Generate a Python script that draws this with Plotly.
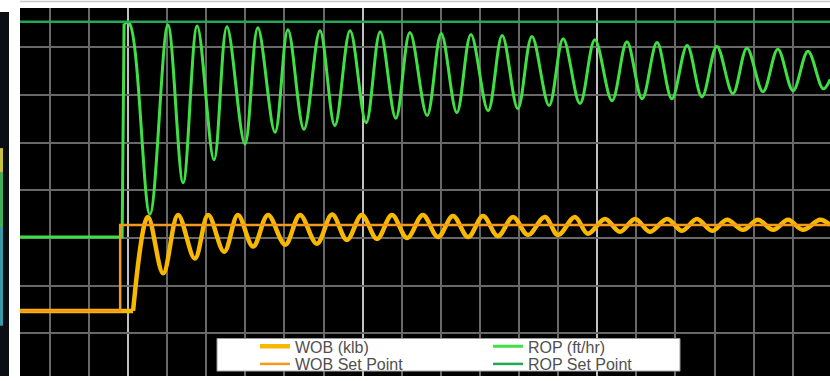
import plotly.graph_objects as go

# ---- data (time in s, values on a shared scale) ----
rop_time = [-27.6, -1.5, -1.0, 0.3, 5.6, 10.2, 14.1, 17.7, 22.0, 25.3, 29.9, 33.2, 37.6, 40.9,
            45.0, 49.1, 52.9, 56.8, 60.9, 64.5, 68.5, 72.1, 76.5, 80.1, 84.1, 87.7, 92.1, 95.7,
            99.7, 103.3, 107.7, 111.3, 115.6, 119.4, 123.8, 127.6, 131.5, 135.3, 139.1, 143.0,
            146.8, 150.6, 154.7, 158.3, 162.4, 166.2, 170.1, 173.9, 177.8, 179.6]
rop_vals = [30.2, 30.2, 75.0, 75.1, 35.0, 74.7, 41.6, 74.5, 46.4, 74.3, 49.7, 74.1, 52.2, 73.7,
            52.8, 73.5, 53.6, 73.5, 54.2, 73.3, 55.1, 73.1, 55.7, 72.9, 56.3, 72.7, 56.7, 72.5,
            57.1, 72.3, 57.8, 71.8, 58.2, 71.6, 58.8, 71.2, 59.2, 71.0, 59.2, 70.4,
            59.6, 70.2, 60.3, 69.8, 60.7, 69.6, 60.9, 69.2, 61.3, 63.3]

wob_time = [-27.6, 1.3, 5.1, 9.0, 12.8, 17.1, 20.5, 24.6, 28.1, 32.0, 35.8, 40.2, 44.0, 48.3,
            52.2, 56.0, 59.8, 63.7, 67.5, 71.4, 75.4, 79.3, 83.1, 87.0, 90.8, 94.6, 98.5, 102.3,
            106.6, 110.0, 114.3, 117.6, 122.0, 125.8, 129.7, 133.5, 137.9, 141.7, 145.5, 149.4,
            153.2, 157.3, 161.1, 165.0, 168.8, 172.6, 177.0, 179.6]
wob_vals = [14.7, 14.7, 34.4, 22.6, 34.8, 25.7, 34.8, 27.1, 34.8, 28.2, 34.8, 28.6, 34.8, 28.8,
            34.9, 29.6, 34.8, 29.8, 34.8, 30.0, 34.8, 30.2, 34.6, 30.2, 34.6, 30.4, 34.4, 30.6,
            34.4, 30.6, 34.4, 30.9, 34.0, 31.3, 34.0, 31.3, 34.0, 31.5, 34.0, 31.5,
            33.8, 31.7, 33.8, 31.7, 33.8, 31.7, 33.8, 32.7]

wob_sp_time = [-27.6, -2.0, -2.0, 179.6]
wob_sp_vals = [14.7, 14.7, 32.7, 32.7]

rop_sp_time = [-27.6, 179.6]
rop_sp_vals = [75.4, 75.4]

names = ["WOB (klb)", "WOB Set Point", "ROP (ft/hr)", "ROP Set Point"]

C_ROP = "#40e044"
C_ROPSP = "#27a655"
C_WOB = "#f8b800"
C_WOBSP = "#f39a1c"

fig = go.Figure()

# ROP actual: pre-step (linear) + oscillation (spline)
fig.add_trace(go.Scatter(x=rop_time[:3], y=rop_vals[:3], mode="lines",
                         line=dict(color=C_ROP, width=3), showlegend=False,
                         legendgroup="rop", hoverinfo="skip"))
fig.add_trace(go.Scatter(x=rop_time[2:], y=rop_vals[2:], mode="lines", name=names[2],
                         line=dict(color=C_ROP, width=3, shape="spline", smoothing=1.0),
                         legendgroup="rop", legend="legend3"))

# WOB actual
fig.add_trace(go.Scatter(x=wob_time[:2], y=wob_vals[:2], mode="lines",
                         line=dict(color=C_WOB, width=4.5), showlegend=False,
                         legendgroup="wob", hoverinfo="skip"))
fig.add_trace(go.Scatter(x=wob_time[1:], y=wob_vals[1:], mode="lines", name=names[0],
                         line=dict(color=C_WOB, width=4.5, shape="spline", smoothing=1.0),
                         legendgroup="wob", legend="legend"))

# Set points
fig.add_trace(go.Scatter(x=rop_sp_time, y=rop_sp_vals, mode="lines", name=names[3],
                         line=dict(color=C_ROPSP, width=2.5), legend="legend4"))
fig.add_trace(go.Scatter(x=wob_sp_time, y=wob_sp_vals, mode="lines", name=names[1],
                         line=dict(color=C_WOBSP, width=2.5), legend="legend2"))

W, H = 830, 381
ML, MT = 20, 8
PW, PH = W - ML, H - MT


def px_x(p):
    return (p - ML) / PW


def px_y(p):
    return (H - p) / PH


leg_font = dict(family="Liberation Sans, Arial, sans-serif", size=16, color="#505050")


def leg(xp, yp):
    return dict(x=px_x(xp), y=px_y(yp), xanchor="left", yanchor="middle",
                bgcolor="rgba(0,0,0,0)", borderwidth=0, font=leg_font,
                itemclick=False, itemdoubleclick=False)


fig.update_layout(
    width=W, height=H,
    margin=dict(l=ML, r=0, t=MT, b=0),
    paper_bgcolor="white",
    plot_bgcolor="black",
    template="none",
    showlegend=True,
    legend=leg(255, 351),
    legend2=leg(255, 369),
    legend3=leg(488, 351),
    legend4=leg(488, 369),
    xaxis=dict(range=[-27.62, 179.54], showticklabels=False, ticks="", zeroline=False,
               showline=False, showgrid=True, tick0=0, dtick=60,
               gridcolor="#c0c0c0", gridwidth=2,
               minor=dict(tick0=0, dtick=10, showgrid=True, gridcolor="#686868", gridwidth=2)),
    yaxis=dict(range=[1.035, 78.26], showticklabels=False, ticks="", zeroline=False,
               showline=False, showgrid=True, tick0=0, dtick=10,
               gridcolor="#686868", gridwidth=2),
    shapes=[
        # legend box
        dict(type="rect", xref="paper", yref="paper", x0=px_x(217), x1=px_x(680),
             y0=px_y(376), y1=px_y(343), fillcolor="white",
             line=dict(color="#9a9a9a", width=1), layer="above"),
        # dark strip at left edge
        dict(type="rect", xref="paper", yref="paper", x0=px_x(0), x1=px_x(9),
             y0=px_y(381), y1=px_y(12), fillcolor="#0b0f13", line=dict(width=0)),
        dict(type="rect", xref="paper", yref="paper", x0=px_x(0), x1=px_x(3),
             y0=px_y(175), y1=px_y(150), fillcolor="#c8c040", line=dict(width=0)),
        dict(type="rect", xref="paper", yref="paper", x0=px_x(0), x1=px_x(3),
             y0=px_y(230), y1=px_y(175), fillcolor="#40b060", line=dict(width=0)),
        dict(type="rect", xref="paper", yref="paper", x0=px_x(0), x1=px_x(3),
             y0=px_y(330), y1=px_y(230), fillcolor="#3a9aa8", line=dict(width=0)),
        # faint line at top
        dict(type="line", xref="paper", yref="paper", x0=px_x(20), x1=px_x(830),
             y0=px_y(1.5), y1=px_y(1.5), line=dict(color="#c8c8c8", width=1.5)),
    ],
)

fig.write_html("out.html")
